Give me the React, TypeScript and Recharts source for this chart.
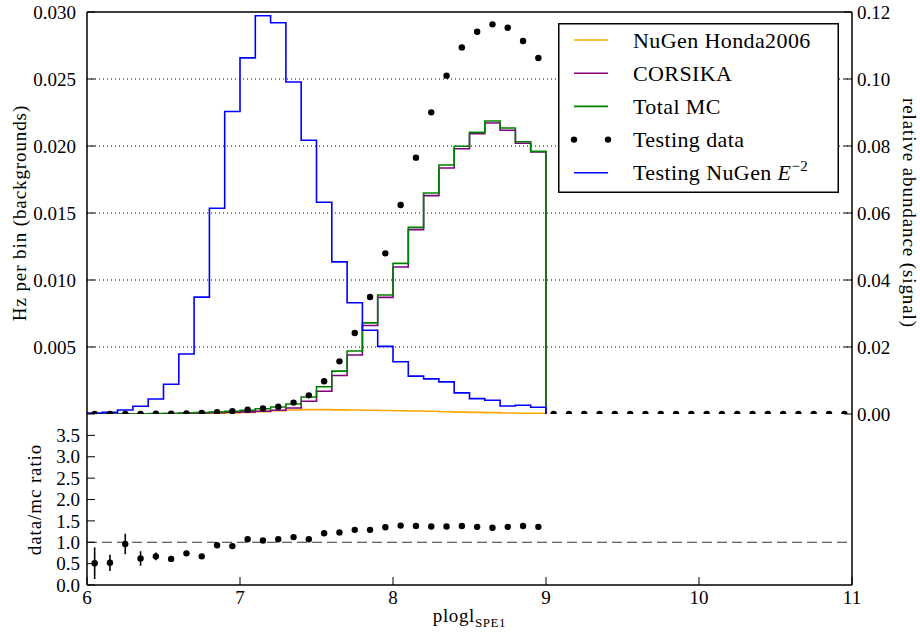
import React from 'react';
import {
  ComposedChart,
  Line,
  Scatter,
  XAxis,
  YAxis,
  CartesianGrid,
  ReferenceLine,
  ErrorBar,
  Legend,
  Label,
} from 'recharts';

const FONT = '"Liberation Serif", "DejaVu Serif", serif';

// Lower edges of the 0.1-wide plogl bins filled by the simulation
const binEdges = [
  6.0, 6.1, 6.2, 6.3, 6.4, 6.5, 6.6, 6.7, 6.8, 6.9,
  7.0, 7.1, 7.2, 7.3, 7.4, 7.5, 7.6, 7.7, 7.8, 7.9,
  8.0, 8.1, 8.2, 8.3, 8.4, 8.5, 8.6, 8.7, 8.8, 8.9,
];
// Upper edge of the last filled bin, where the histograms close to zero
const histUpperEdge = 9.0;

// Hz per bin (backgrounds, left axis)
const nugenHonda = [
  0, 0, 0, 0, 0.000005, 0.00001, 0.00002, 0.00003, 0.00005, 0.00008,
  0.00012, 0.00018, 0.00024, 0.0003, 0.00033, 0.00033, 0.00031, 0.0003, 0.00028, 0.00026,
  0.00024, 0.00022, 0.0002, 0.00017, 0.00014, 0.00012, 0.0001, 0.00008, 0.00006, 0.00005,
];
const corsika = [
  0, 0, 0, 0, 0.00002, 0.00003, 0.00005, 0.00008, 0.0001, 0.00013,
  0.00016, 0.00021, 0.00028, 0.00045, 0.00095, 0.0017, 0.00287, 0.0044, 0.0066, 0.0087,
  0.01097, 0.01376, 0.0163, 0.01836, 0.0198, 0.02092, 0.02172, 0.02117, 0.0202, 0.01955,
];
const totalMC = [
  0, 0, 0, 0, 0.00003, 0.00004, 0.00007, 0.00011, 0.00015, 0.00021,
  0.00028, 0.00039, 0.00052, 0.00075, 0.00127, 0.00203, 0.0032, 0.0047, 0.0068, 0.00888,
  0.01124, 0.01393, 0.01649, 0.01858, 0.01998, 0.02102, 0.02187, 0.02134, 0.02032, 0.0196,
];
// Relative abundance (signal, right axis)
const signalE2 = [
  0.0003, 0.0005, 0.0012, 0.0023, 0.0045, 0.0089, 0.0179, 0.0349, 0.0614, 0.0903,
  0.1063, 0.1189, 0.1168, 0.0991, 0.0817, 0.0632, 0.0454, 0.0332, 0.025, 0.0202,
  0.0156, 0.0113, 0.0105, 0.0096, 0.0063, 0.0046, 0.0041, 0.0024, 0.0026, 0.002,
];

// Bin centres for the testing data over the full range
const dataCenters = [
  6.05, 6.15, 6.25, 6.35, 6.45, 6.55, 6.65, 6.75, 6.85, 6.95,
  7.05, 7.15, 7.25, 7.35, 7.45, 7.55, 7.65, 7.75, 7.85, 7.95,
  8.05, 8.15, 8.25, 8.35, 8.45, 8.55, 8.65, 8.75, 8.85, 8.95,
  9.05, 9.15, 9.25, 9.35, 9.45, 9.55, 9.65, 9.75, 9.85, 9.95,
  10.05, 10.15, 10.25, 10.35, 10.45, 10.55, 10.65, 10.75, 10.85, 10.95,
];
const testingData = [
  0.000002, 0.000005, 0.00001, 0.00001, 0.00002, 0.00003, 0.00005, 0.00007, 0.00014, 0.00021,
  0.00032, 0.00042, 0.00055, 0.00085, 0.00139, 0.00244, 0.00393, 0.00604, 0.00873, 0.01199,
  0.0156, 0.01913, 0.02251, 0.02525, 0.02736, 0.02853, 0.02908, 0.02883, 0.02784, 0.02657,
  0, 0, 0, 0, 0, 0, 0, 0, 0, 0,
  0, 0, 0, 0, 0, 0, 0, 0, 0, 0,
];

// data/mc ratio per bin centre, with its uncertainty
const ratioCenters = [
  6.05, 6.15, 6.25, 6.35, 6.45, 6.55, 6.65, 6.75, 6.85, 6.95,
  7.05, 7.15, 7.25, 7.35, 7.45, 7.55, 7.65, 7.75, 7.85, 7.95,
  8.05, 8.15, 8.25, 8.35, 8.45, 8.55, 8.65, 8.75, 8.85, 8.95,
];
const ratio = [
  0.51, 0.52, 0.96, 0.62, 0.67, 0.61, 0.74, 0.67, 0.93, 0.91,
  1.07, 1.04, 1.07, 1.12, 1.07, 1.21, 1.23, 1.29, 1.29, 1.35,
  1.39, 1.38, 1.37, 1.37, 1.38, 1.36, 1.34, 1.36, 1.38, 1.36,
];
const ratioErr = [
  0.37, 0.19, 0.24, 0.17, 0.09, 0.05, 0.04, 0.04, 0.03, 0.03,
  0.02, 0.02, 0.02, 0.02, 0.01, 0.01, 0.01, 0.01, 0.01, 0.01,
  0.01, 0.01, 0.01, 0.01, 0.01, 0.01, 0.01, 0.01, 0.01, 0.01,
];

const xTicks = [6, 7, 8, 9, 10, 11];
const bgTicks = [0, 0.005, 0.01, 0.015, 0.02, 0.025, 0.03];
const sigTicks = [0, 0.02, 0.04, 0.06, 0.08, 0.1, 0.12];
const ratioTicks = [0, 0.5, 1, 1.5, 2, 2.5, 3, 3.5];

const COLORS = {
  honda: '#FFA500',
  corsika: '#800080',
  total: '#008000',
  data: '#000000',
  signal: '#0000FF',
};

const legendItems = [
  { key: 'honda', kind: 'line', color: COLORS.honda, text: 'NuGen Honda2006' },
  { key: 'corsika', kind: 'line', color: COLORS.corsika, text: 'CORSIKA' },
  { key: 'total', kind: 'line', color: COLORS.total, text: 'Total MC' },
  { key: 'data', kind: 'dots', color: COLORS.data, text: 'Testing data' },
  { key: 'signal', kind: 'line', color: COLORS.signal, text: 'Testing NuGen' },
];

const histRows = [
  ...binEdges.map((x, i) => ({
    x,
    honda: nugenHonda[i],
    corsika: corsika[i],
    total: totalMC[i],
    signal: signalE2[i],
  })),
  { x: histUpperEdge, honda: 0, corsika: 0, total: 0, signal: 0 },
];
const dataRows = dataCenters.map((x, i) => ({ x, y: testingData[i] }));
const ratioRows = ratioCenters.map((x, i) => ({ x, y: ratio[i], err: ratioErr[i] }));

const tickFont = { fill: '#000', fontSize: 19, fontFamily: FONT, style: { fontFamily: FONT } };
const axisLineStyle = { stroke: '#000', strokeWidth: 1.5 };
const tickLineStyle = { stroke: '#000', strokeWidth: 1 };
const labelStyle = { fontFamily: FONT, fontSize: 19, letterSpacing: 0.9 };

const Dot = (props: any) => {
  const { cx, cy } = props;
  if (cx == null || cy == null) return null;
  return <circle cx={cx} cy={cy} r={3.2} fill="#000" />;
};

const LegendBox = () => {
  const rowH = 33.2;
  return (
    <svg width={281} height={170} style={{ display: 'block' }}>
      <rect x={0.75} y={0.75} width={279.5} height={168.5} fill="#fff" stroke="#000" strokeWidth={1.5} />
      {legendItems.map((it, i) => {
        const cy = 17 + i * rowH;
        return (
          <g key={it.key}>
            {it.kind === 'line' ? (
              <line x1={16} x2={50} y1={cy} y2={cy} stroke={it.color} strokeWidth={1.6} />
            ) : (
              <g>
                <circle cx={16} cy={cy} r={3.2} fill={it.color} />
                <circle cx={50} cy={cy} r={3.2} fill={it.color} />
              </g>
            )}
            <text
              x={75}
              y={cy + 7.5}
              fill="#000"
              style={{ fontFamily: FONT, fontSize: 22, letterSpacing: 0.4 }}
            >
              {it.text}
              {it.key === 'signal' ? (
                <>
                  <tspan style={{ fontStyle: 'italic' }}> E</tspan>
                  <tspan style={{ fontSize: 15 }} dy={-9}>−2</tspan>
                </>
              ) : null}
            </text>
          </g>
        );
      })}
    </svg>
  );
};

const TopLeftLabel = (props: any) => {
  const vb = props.viewBox || { x: 0, y: 12, width: 87, height: 402 };
  const cx = 26;
  const cy = vb.y + vb.height / 2;
  return (
    <text x={cx} y={cy} textAnchor="middle" fill="#000" transform={`rotate(-90, ${cx}, ${cy})`} style={labelStyle}>
      Hz per bin (backgrounds)
    </text>
  );
};

const TopRightLabel = (props: any) => {
  const vb = props.viewBox || { x: 852, y: 12, width: 68, height: 402 };
  const cx = 903;
  const cy = vb.y + vb.height / 2;
  return (
    <text x={cx} y={cy} textAnchor="middle" fill="#000" transform={`rotate(90, ${cx}, ${cy})`} style={labelStyle}>
      relative abundance (signal)
    </text>
  );
};

const RatioLabel = (props: any) => {
  const vb = props.viewBox || { x: 0, y: 0, width: 87, height: 171 };
  const cx = 41;
  const cy = vb.y + vb.height / 2;
  return (
    <text x={cx} y={cy} textAnchor="middle" fill="#000" transform={`rotate(-90, ${cx}, ${cy})`} style={labelStyle}>
      data/mc ratio
    </text>
  );
};

const XLabel = (props: any) => {
  const vb = props.viewBox || { x: 87, y: 171, width: 765, height: 49 };
  const cx = vb.x + vb.width / 2;
  const y = vb.y + 37;
  return (
    <text x={cx} y={y} textAnchor="middle" fill="#000" style={{ fontFamily: FONT, fontSize: 19, letterSpacing: 0.6 }}>
      plogl
      <tspan style={{ fontSize: 13 }} dy={5}>SPE1</tspan>
    </text>
  );
};

export default function App() {
  return (
    <div
      style={{
        position: 'absolute',
        left: 0,
        top: 0,
        width: 920,
        height: 634,
        background: '#fff',
        fontFamily: FONT,
      }}
    >
      {/* Upper panel: rates per bin and signal abundance */}
      <div style={{ position: 'absolute', left: 0, top: 0 }}>
        <ComposedChart
          width={920}
          height={440}
          margin={{ top: 11, right: 0, bottom: 26, left: 0 }}
          style={{ fontFamily: FONT }}
        >
          <CartesianGrid
            yAxisId="bg"
            horizontalValues={[0.005, 0.01, 0.015, 0.02, 0.025]}
            verticalValues={[7, 8, 9, 10]}
            stroke="#000"
            strokeWidth={1}
            strokeDasharray="1 3"
          />
          <XAxis
            type="number"
            dataKey="x"
            domain={[6, 11]}
            ticks={xTicks}
            interval={0}
            height={0}
            tick={false}
            tickSize={-8}
            axisLine={axisLineStyle}
            tickLine={tickLineStyle}
            allowDataOverflow
          />
          <XAxis
            xAxisId="top"
            orientation="top"
            type="number"
            dataKey="x"
            domain={[6, 11]}
            ticks={xTicks}
            interval={0}
            height={1}
            tick={false}
            tickSize={-8}
            axisLine={axisLineStyle}
            tickLine={tickLineStyle}
            allowDataOverflow
          />
          <YAxis
            yAxisId="bg"
            orientation="left"
            type="number"
            domain={[0, 0.03]}
            ticks={bgTicks}
            interval={0}
            width={87}
            tickSize={-8}
            tickMargin={19}
            tick={tickFont}
            tickFormatter={(v: number) => (v === 0 ? '' : v.toFixed(3))}
            axisLine={axisLineStyle}
            tickLine={tickLineStyle}
            allowDataOverflow
          >
            <Label content={TopLeftLabel} />
          </YAxis>
          <YAxis
            yAxisId="sig"
            orientation="right"
            type="number"
            domain={[0, 0.12]}
            ticks={sigTicks}
            interval={0}
            width={68}
            tickSize={-8}
            tickMargin={13}
            tick={tickFont}
            tickFormatter={(v: number) => v.toFixed(2)}
            axisLine={axisLineStyle}
            tickLine={tickLineStyle}
            allowDataOverflow
          >
            <Label content={TopRightLabel} />
          </YAxis>

          <Line
            yAxisId="bg"
            data={histRows}
            dataKey="honda"
            type="stepAfter"
            stroke={COLORS.honda}
            strokeWidth={1.6}
            dot={false}
            activeDot={false}
            isAnimationActive={false}
          />
          <Line
            yAxisId="bg"
            data={histRows}
            dataKey="corsika"
            type="stepAfter"
            stroke={COLORS.corsika}
            strokeWidth={1.6}
            dot={false}
            activeDot={false}
            isAnimationActive={false}
          />
          <Line
            yAxisId="bg"
            data={histRows}
            dataKey="total"
            type="stepAfter"
            stroke={COLORS.total}
            strokeWidth={1.6}
            dot={false}
            activeDot={false}
            isAnimationActive={false}
          />
          <Scatter
            yAxisId="bg"
            data={dataRows}
            dataKey="y"
            shape={Dot}
            isAnimationActive={false}
          />
          <Line
            yAxisId="sig"
            data={histRows}
            dataKey="signal"
            type="stepAfter"
            stroke={COLORS.signal}
            strokeWidth={1.6}
            dot={false}
            activeDot={false}
            isAnimationActive={false}
          />
          <Legend
            layout="vertical"
            align="center"
            verticalAlign="middle"
            content={LegendBox}
            wrapperStyle={{ position: 'absolute', left: 558, top: 23, width: 281, height: 170 }}
          />
        </ComposedChart>
      </div>

      {/* Lower panel: data/mc ratio */}
      <div style={{ position: 'absolute', left: 0, top: 414 }}>
        <ComposedChart
          width={920}
          height={220}
          margin={{ top: 0, right: 67, bottom: 0, left: 0 }}
          style={{ fontFamily: FONT }}
        >
          <XAxis
            type="number"
            dataKey="x"
            domain={[6, 11]}
            ticks={xTicks}
            interval={0}
            height={49}
            tickSize={-8}
            tickMargin={14}
            tick={tickFont}
            axisLine={axisLineStyle}
            tickLine={tickLineStyle}
            allowDataOverflow
          >
            <Label content={XLabel} />
          </XAxis>
          <XAxis
            xAxisId="top"
            orientation="top"
            type="number"
            dataKey="x"
            domain={[6, 11]}
            ticks={xTicks}
            interval={0}
            height={0}
            tick={false}
            tickSize={-8}
            axisLine={axisLineStyle}
            tickLine={tickLineStyle}
            allowDataOverflow
          />
          <YAxis
            yAxisId="l"
            orientation="left"
            type="number"
            domain={[0, 4]}
            ticks={ratioTicks}
            interval={0}
            width={87}
            tickSize={-8}
            tickMargin={15}
            tick={tickFont}
            tickFormatter={(v: number) => v.toFixed(1)}
            axisLine={axisLineStyle}
            tickLine={tickLineStyle}
            allowDataOverflow
          >
            <Label content={RatioLabel} />
          </YAxis>
          <YAxis
            yAxisId="r"
            orientation="right"
            type="number"
            domain={[0, 4]}
            ticks={ratioTicks}
            interval={0}
            width={1}
            tickSize={-8}
            tick={false}
            axisLine={axisLineStyle}
            tickLine={tickLineStyle}
            allowDataOverflow
          />
          <ReferenceLine yAxisId="l" y={1} stroke="#333" strokeWidth={1.2} strokeDasharray="10 5" />
          <Scatter yAxisId="l" data={ratioRows} dataKey="y" shape={Dot} isAnimationActive={false}>
            <ErrorBar dataKey="err" direction="y" width={0} stroke="#000" strokeWidth={1.6} />
          </Scatter>
        </ComposedChart>
      </div>
    </div>
  );
}
